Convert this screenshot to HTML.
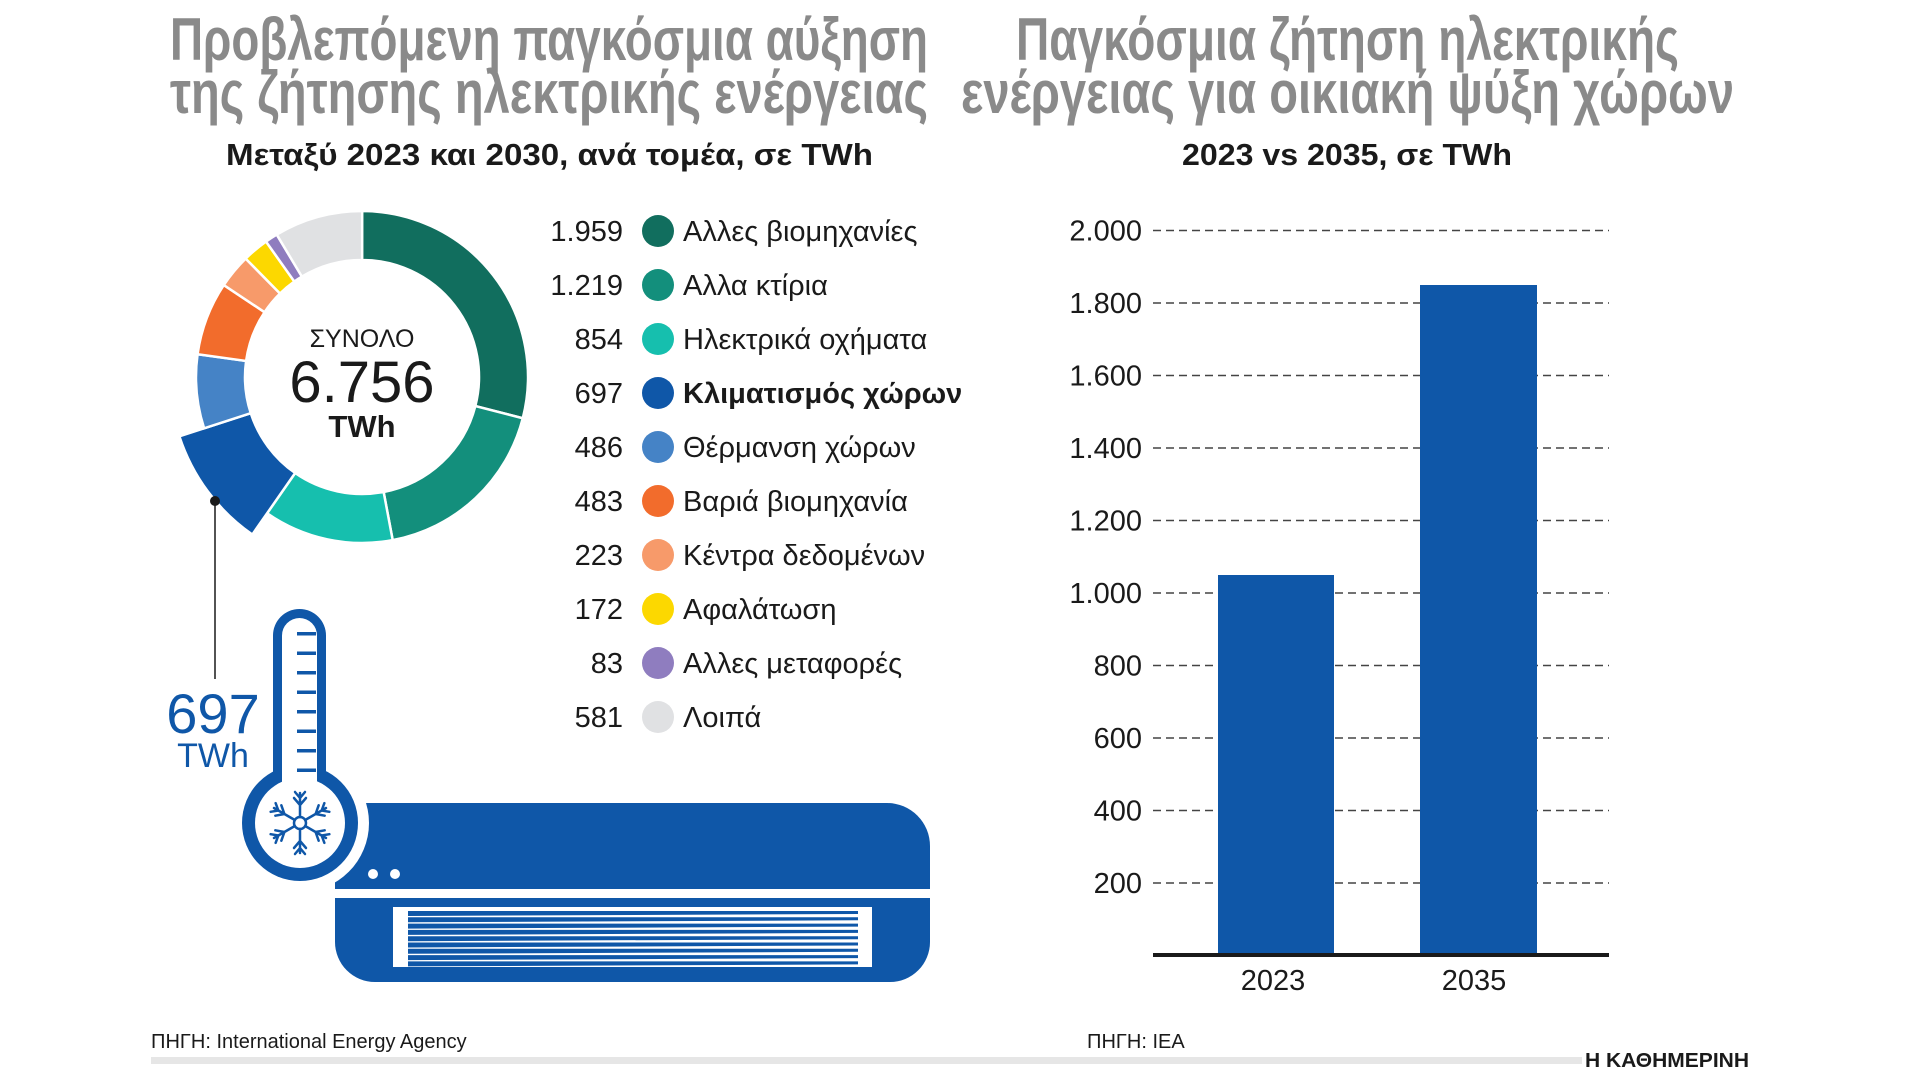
<!DOCTYPE html>
<html><head><meta charset="utf-8"><style>
html,body{margin:0;padding:0;background:#fff;width:1920px;height:1080px;overflow:hidden}
svg{display:block}
text{font-family:"Liberation Sans","DejaVu Sans",sans-serif}
.n{font-family:"Liberation Sans Narrow","Liberation Sans",sans-serif}
</style></head><body>
<svg id="s" width="1920" height="1080" viewBox="0 0 1920 1080" xmlns="http://www.w3.org/2000/svg">
<g class="n" font-weight="bold" fill="#8a8a8a" font-size="60">
<text x="170" y="60" textLength="758" lengthAdjust="spacingAndGlyphs" class="n">Προβλεπόμενη παγκόσμια αύξηση</text>
<text x="170" y="113" textLength="758" lengthAdjust="spacingAndGlyphs" class="n">της ζήτησης ηλεκτρικής ενέργειας</text>
<text x="1016" y="60" textLength="663" lengthAdjust="spacingAndGlyphs" class="n">Παγκόσμια ζήτηση ηλεκτρικής</text>
<text x="961" y="113" textLength="773" lengthAdjust="spacingAndGlyphs" class="n">ενέργειας για οικιακή ψύξη χώρων</text>
</g>
<g font-weight="bold" fill="#1a1a1a" font-size="31">
<text x="226" y="165" textLength="647" lengthAdjust="spacingAndGlyphs" class="n">Μεταξύ 2023 και 2030, ανά τομέα, σε TWh</text>
<text x="1182" y="165" textLength="330" lengthAdjust="spacingAndGlyphs" class="n">2023 vs 2035, σε TWh</text>
</g>
<g id="donut"></g>
<g text-anchor="middle" fill="#1a1a1a">
<text x="362" y="347" font-size="25">ΣΥΝΟΛΟ</text>
<text x="362" y="402" font-size="58">6.756</text>
<text x="362" y="437" font-size="31" font-weight="bold">TWh</text>
</g>
<g id="legend" font-size="29" fill="#1a1a1a"></g>
<circle cx="215" cy="501" r="5" fill="#1a1a1a"/>
<line x1="215" y1="501" x2="215" y2="679" stroke="#1a1a1a" stroke-width="1.5"/>
<text x="213" y="733" font-size="56" fill="#0f57a8" text-anchor="middle">697</text>
<text x="213" y="767" font-size="34" fill="#0f57a8" text-anchor="middle">TWh</text>
<path d="M360 803 H887 A43 43 0 0 1 930 846 V889 H335 V828 A25 25 0 0 1 360 803Z" fill="#0f57a8"/>
<path d="M335 898 H930 V942 A40 40 0 0 1 890 982 H375 A40 40 0 0 1 335 942Z" fill="#0f57a8"/>
<circle cx="373" cy="874" r="5" fill="#fff"/><circle cx="395" cy="874" r="5" fill="#fff"/>
<rect x="393" y="907" width="479" height="60" fill="#fff"/>
<g id="vent" fill="#0f57a8"></g>
<circle cx="300" cy="823" r="69" fill="#fff"/>
<circle cx="300" cy="823" r="58" fill="#0f57a8"/>
<rect x="273" y="609" width="53" height="200" rx="26.5" fill="#0f57a8"/>
<rect x="282" y="618" width="35" height="210" rx="17.5" fill="#fff"/>
<circle cx="300" cy="823" r="45" fill="#fff"/>
<g id="ticks" fill="#0f57a8"></g>
<g id="snow" stroke="#0f57a8" stroke-width="2.5" fill="none" stroke-linecap="round"></g>
<g id="bars"></g>
<g class="n" font-size="20" fill="#1a1a1a">
<text x="151" y="1048" class="n">ΠΗΓΗ: International Energy Agency</text>
<text x="1087" y="1048" class="n">ΠΗΓΗ: IEA</text>
<text x="1585" y="1067" class="n" font-weight="bold" textLength="164" lengthAdjust="spacingAndGlyphs" font-family="Liberation Serif">Η ΚΑΘΗΜΕΡΙΝΗ</text>
</g>
<rect x="151" y="1057" width="1431" height="7" fill="#e6e6e6"/>
</svg>
<script>
var NS="http://www.w3.org/2000/svg";
function el(t,a,p,txt){var e=document.createElementNS(NS,t);for(var k in a)e.setAttribute(k,a[k]);if(txt!=null)e.textContent=txt;p.appendChild(e);return e;}
var d=[[1959,"#116e5e","Αλλες βιομηχανίες","1.959"],[1219,"#138f7c","Αλλα κτίρια","1.219"],[854,"#16bfae","Ηλεκτρικά οχήματα","854"],[697,"#0f57a8","Κλιματισμός χώρων","697"],[486,"#4583c6","Θέρμανση χώρων","486"],[483,"#f26c2c","Βαριά βιομηχανία","483"],[223,"#f79a6a","Κέντρα δεδομένων","223"],[172,"#fcd800","Αφαλάτωση","172"],[83,"#8f7dbf","Αλλες μεταφορές","83"],[581,"#e0e1e3","Λοιπά","581"]];
var cx=362,cy=377,R=166,r=117,tot=6756,a=0,g=document.getElementById("donut");
function pt(rad,ang){return [cx+rad*Math.sin(ang),cy-rad*Math.cos(ang)];}
d.forEach(function(s,i){var a0=a/tot*2*Math.PI;a+=s[0];var a1=a/tot*2*Math.PI;var RR=i==3?192:R;
var p1=pt(RR,a0),p2=pt(RR,a1),p3=pt(r,a1),p4=pt(r,a0);var lg=(a1-a0)>Math.PI?1:0;
el("path",{d:"M"+p1+" A"+RR+" "+RR+" 0 "+lg+" 1 "+p2+" L"+p3+" A"+r+" "+r+" 0 "+lg+" 0 "+p4+"Z",fill:s[1],stroke:"#fff","stroke-width":2.5},g);});
var L=document.getElementById("legend");
d.forEach(function(s,i){var y=231+i*54;
el("text",{x:623,y:y+10,"text-anchor":"end"},L,s[3]);
el("circle",{cx:658,cy:y,r:16,fill:s[1]},L);
var t=el("text",{x:683,y:y+10},L,s[2]);if(i==3)t.setAttribute("font-weight","bold");});
var T=document.getElementById("ticks");
for(var i=0;i<8;i++)el("rect",{x:297,y:632+i*19.5,width:19,height:3.5},T);
var V=document.getElementById("vent");
for(var i=0;i<9;i++)el("path",{d:"M408 "+(911+i*6.3)+" L858 "+(911+i*6.3)+" L858 "+(914+i*6.3)+" L408 "+(916+i*6.3)+"Z"},V);
var S=document.getElementById("snow");
el("circle",{cx:300,cy:823,r:6},S);
for(var k=0;k<6;k++){var an=k*Math.PI/3;var c=Math.cos(an),sn=Math.sin(an);
function P(u,v){return (300+u*sn+v*c)+","+(823-u*c+v*sn);}
el("path",{d:"M"+P(6,0)+" L"+P(30,0)+" M"+P(18,0)+" L"+P(25,-6)+" M"+P(18,0)+" L"+P(25,6)+" M"+P(25,0)+" L"+P(31,-5)+" M"+P(25,0)+" L"+P(31,5)},S);}
var B=document.getElementById("bars");
var y0=955.5,st=72.5;
for(var v=1;v<=10;v++){var y=y0-v*st;
el("line",{x1:1153,y1:y,x2:1609,y2:y,stroke:"#444","stroke-width":1.5,"stroke-dasharray":"8,5"},B);
el("text",{x:1142,y:y+10,"text-anchor":"end","font-size":29,fill:"#1a1a1a"},B,(v*200>=1000?(Math.floor(v*200/1000)+"."+String(v*200%1000).padStart(3,"0")):String(v*200)));}
el("rect",{x:1218,y:575,width:116,height:y0-575,fill:"#0f57a8"},B);
el("rect",{x:1420,y:285,width:117,height:y0-285,fill:"#0f57a8"},B);
el("rect",{x:1153,y:953,width:456,height:4,fill:"#1a1a1a"},B);
el("text",{x:1273,y:990,"text-anchor":"middle","font-size":29,fill:"#1a1a1a"},B,"2023");
el("text",{x:1474,y:990,"text-anchor":"middle","font-size":29,fill:"#1a1a1a"},B,"2035");
</script>
</body></html>
